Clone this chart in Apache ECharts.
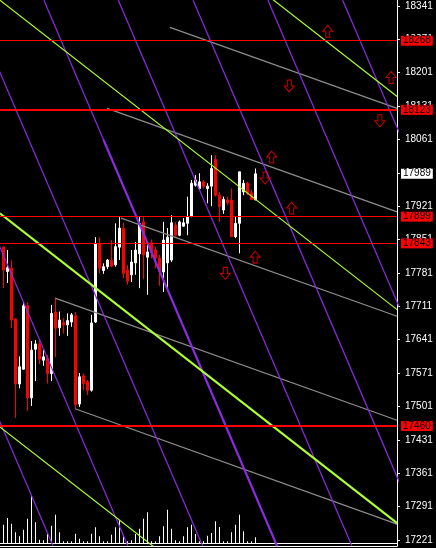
<!DOCTYPE html>
<html><head><meta charset="utf-8">
<script src="https://cdn.jsdelivr.net/npm/echarts@6/dist/echarts.min.js"></script>
<style>html,body{margin:0;padding:0;background:#000;}#c{width:436px;height:548px;}</style>
</head><body><div id="c"></div>
<script>
// ---- data (bar index, prices) ----
const opens  = [17835,17784,17791,17684,17548,17579,17712,17519,17621,17632,17598,17602,17570,17699,17666,17677,17672,17678,17691,17506,17565,17553,17535,17678,17843,17786,17794,17807,17798,17835,17874,17787,17777,17802,17821,17888,17814,17844,17829,17812,17783,17802,17808,17881,17860,17879,17885,17899,17965,17958,17972,17958,17963,18019,17944,17913,17934,17934,17857,17885,17951,17969,17949,17934];
const closes = [17787,17792,17682,17548,17584,17712,17519,17619,17632,17600,17605,17570,17696,17665,17682,17672,17681,17693,17505,17563,17549,17535,17676,17843,17791,17794,17808,17795,17836,17875,17780,17764,17804,17829,17884,17819,17825,17825,17812,17784,17850,17856,17886,17860,17888,17886,17899,17969,17976,17972,17962,17963,18000,17944,17920,17935,17928,17857,17885,17993,17969,17948,17935,17989];
const lows   = [17749,17760,17665,17477,17539,17578,17492,17502,17554,17590,17586,17549,17554,17604,17649,17654,17649,17668,17496,17500,17535,17525,17532,17676,17780,17779,17789,17793,17794,17808,17770,17756,17762,17777,17749,17768,17735,17812,17791,17754,17741,17745,17804,17857,17858,17878,17860,17898,17962,17955,17958,17927,17921,17941,17888,17905,17923,17856,17854,17822,17944,17944,17934,17934];
const highs  = [17837,17829,17807,17686,17606,17721,17720,17638,17640,17642,17619,17609,17714,17728,17700,17686,17696,17697,17699,17571,17570,17556,17693,17856,17856,17801,17810,17850,17885,17898,17886,17798,17829,17846,17898,17898,17846,17851,17836,17819,17888,17875,17902,17888,17891,17896,17941,17976,17986,17990,17976,17969,18028,18028,17951,17941,17941,17958,17899,17993,17976,17972,17955,18000];
const volumes = [183,250,193,107,67,133,243,473,207,33,27,90,173,283,107,17,17,17,93,43,17,17,93,157,67,17,17,83,157,227,83,17,27,90,143,243,307,17,17,67,167,333,143,27,17,67,157,183,90,17,17,73,100,217,160,17,17,107,183,283,117,17,17,57];
const yTicks = [17221,17291,17361,17431,17501,17571,17641,17711,17781,17851,17921,17991,18061,18131,18201,18271,18341];
const hLevels = [18268,18123,17899,17843,17460];
const lastPrice = 17989;
// lines: [startIndex, startPrice, endIndex, endPrice]
const purpleLines = [[-46.0,18353,12.4,17208],[-27.3,18353,31.1,17208],[-8.6,18353,49.8,17208],[10.1,18353,68.4,17208],[28.7,18353,87.1,17208],[47.4,18353,105.8,17208],[66.1,18353,124.5,17208],[84.8,18353,143.1,17208]];
const purpleThickPart = [25.0,18060,68.4,17208];
const grayRays = [[41.6,18296,98.4,18126],[25.9,18126,98.4,17909],[29.4,17896,98.4,17690],[12.9,17728,98.4,17472],[17.9,17496,98.4,17254]];
const greenLines = [[-0.9,18801,98.4,18151],[-0.9,18353,98.4,17704],[-0.9,17906,98.4,17256],[-0.9,17458,98.4,16809]];
const upArrows = [[81.05,18288],[96.9,18191],[67.05,18024],[72.05,17917],[62.9,17814]];
const downArrows = [[71.45,18173],[65.4,17980],[94.1,18100],[55.45,17780]];

// ---- chart ----
const X_MIN = -0.875, X_MAX = 98.375, Y_MIN = 17208.2, Y_MAX = 18353.4;
const FONT = 'Liberation Sans';
const chart = echarts.init(document.getElementById('c'), null, {renderer: 'canvas'});
const series = [];

series.push({
  type: 'candlestick', xAxisIndex: 0, yAxisIndex: 0, z: 2,
  data: opens.map((o, i) => [i, o, closes[i], lows[i], highs[i]]),
  encode: {x: 0, y: [1, 2, 3, 4]},
  barWidth: 3,
  itemStyle: {color: '#ffffff', color0: '#ff0000', borderColor: '#ffffff', borderColor0: '#ff0000', borderWidth: 1},
  markLine: {
    silent: true, symbol: ['none', 'none'], animation: false,
    data: hLevels.map(v => ({
      yAxis: v,
      lineStyle: {color: '#ff0000', width: (v === 18123 || v === 17460) ? 2 : 1, type: 'solid'},
      label: {show: true, position: 'end', distance: 4, formatter: String(v), color: '#000', backgroundColor: '#ff0000',
        fontFamily: FONT, fontSize: 10, lineHeight: 10, padding: [0, 2, 0, 2]}
    })).concat([{
      yAxis: lastPrice,
      lineStyle: {color: 'rgba(0,0,0,0)', width: 0},
      label: {show: true, position: 'end', distance: 4, formatter: String(lastPrice), color: '#000', backgroundColor: '#ffffff',
        fontFamily: FONT, fontSize: 10, lineHeight: 10, padding: [0, 2, 0, 2]}
    }])
  }
});

function addLine(l, color, width) {
  series.push({
    type: 'line', xAxisIndex: 0, yAxisIndex: 0, z: 3, silent: true, symbol: 'none', clip: true,
    data: [[l[0], l[1]], [l[2], l[3]]],
    lineStyle: {color: color, width: width}
  });
}
grayRays.forEach(l => addLine(l, '#8c8c8c', 1.2));
purpleLines.forEach(l => addLine(l, '#8a2be2', 1.2));
addLine(purpleThickPart, '#8a2be2', 2.2);
greenLines.forEach((l, k) => addLine(l, '#adff2f', k === 2 ? 2.2 : 1.2));

const arrowPath = 'path://M5,0 L10,6 L7,6 L7,12 L3,12 L3,6 L0,6 Z';
series.push({
  type: 'scatter', xAxisIndex: 0, yAxisIndex: 0, z: 5, silent: true,
  data: upArrows, symbol: arrowPath, symbolSize: [10, 12],
  itemStyle: {color: 'rgba(0,0,0,0)', borderColor: '#ff0000', borderWidth: 1}
});
series.push({
  type: 'scatter', xAxisIndex: 0, yAxisIndex: 0, z: 5, silent: true,
  data: downArrows, symbol: arrowPath, symbolSize: [10, 12], symbolRotate: 180,
  itemStyle: {color: 'rgba(0,0,0,0)', borderColor: '#ff0000', borderWidth: 1}
});

series.push({
  type: 'bar', xAxisIndex: 1, yAxisIndex: 1, z: 1, silent: true,
  data: volumes.map((v, i) => [i, v]), barWidth: 1,
  itemStyle: {color: '#ffffff'}
});

chart.setOption({
  animation: false,
  backgroundColor: '#000000',
  grid: [
    {left: 0, top: 0, right: 39, bottom: 2},
    {left: 0, right: 39, bottom: 5, height: 100}
  ],
  xAxis: [
    {type: 'value', gridIndex: 0, min: X_MIN, max: X_MAX, splitLine: {show: false},
     axisLine: {show: true, onZero: false, lineStyle: {color: '#ffffff'}}, axisTick: {show: false}, axisLabel: {show: false}},
    {type: 'value', gridIndex: 1, min: X_MIN, max: X_MAX, splitLine: {show: false},
     axisLine: {show: true, onZero: false, lineStyle: {color: '#ffffff'}}, axisTick: {show: false}, axisLabel: {show: false}}
  ],
  yAxis: [
    {type: 'value', gridIndex: 0, position: 'right', min: Y_MIN, max: Y_MAX, splitLine: {show: false},
     axisLine: {show: true, onZero: false, lineStyle: {color: '#ffffff'}},
     axisTick: {show: true, length: 3, customValues: yTicks, lineStyle: {color: '#ffffff'}},
     axisLabel: {show: true, customValues: yTicks, color: '#ffffff', fontFamily: FONT, fontSize: 10, margin: 8, formatter: v => String(v)}},
    {type: 'value', gridIndex: 1, min: 0, max: 1000, show: false, axisLine: {onZero: false}, splitLine: {show: false}}
  ],
  series: series
});
</script>
</body></html>
